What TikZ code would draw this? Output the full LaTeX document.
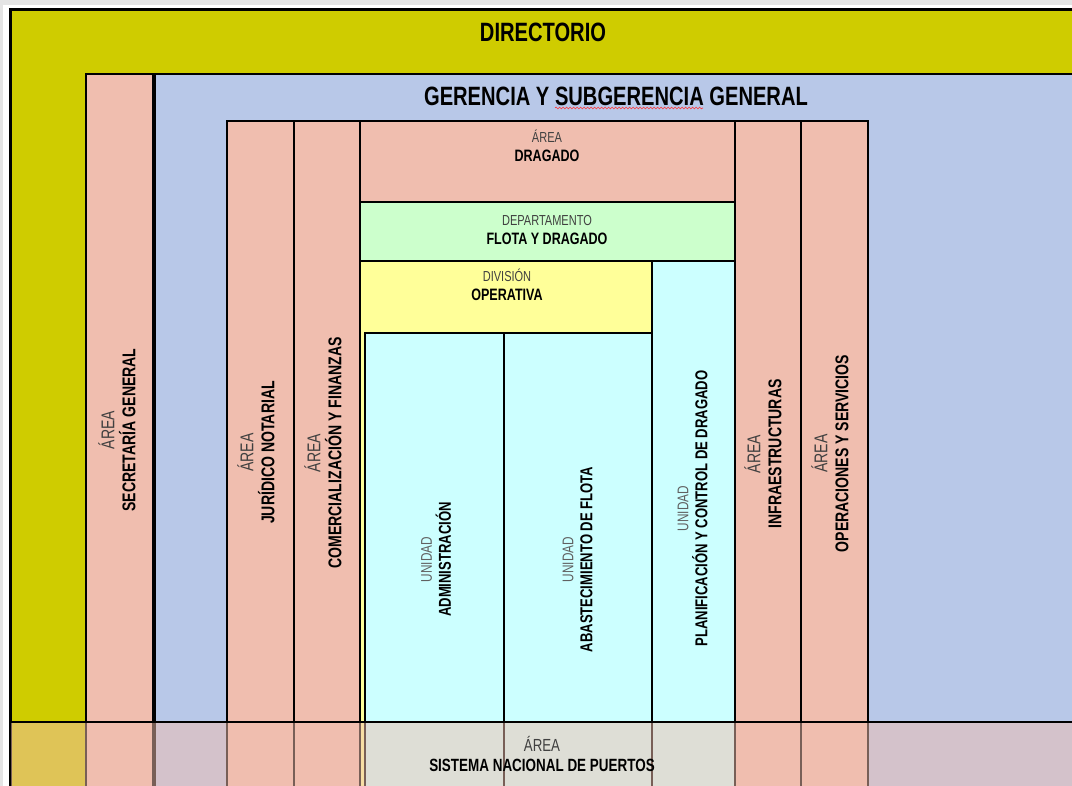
\documentclass[tikz,border=0pt]{standalone}
\usepackage{fontspec}
\setmainfont{Liberation Sans}[FakeStretch=0.76]
\usetikzlibrary{decorations.pathmorphing}
\definecolor{diryellow}{RGB}{207,204,0}
\definecolor{gerblue}{RGB}{184,200,232}
\definecolor{areapink}{RGB}{240,190,175}
\definecolor{depgreen}{RGB}{204,255,204}
\definecolor{divyellow}{RGB}{255,255,153}
\definecolor{unicyan}{RGB}{204,255,255}
\definecolor{labgrey}{RGB}{64,64,64}
\definecolor{unigrey}{RGB}{96,96,96}
\definecolor{framegrey}{RGB}{228,228,228}
\newcommand\smallsz{\fontsize{14.5}{19}\selectfont}
\newcommand\orglbl[2]{{\smallsz\color{labgrey}#1}\\\textbf{#2}}
\newcommand\unilbl[1]{{\smallsz\color{unigrey}UNIDAD}\\\textbf{#1}}
\begin{document}
\begin{tikzpicture}[x=1pt,y=-1pt,
  box/.style={draw=black, line width=2.5pt, anchor=north west, inner sep=0pt, outer sep=0pt},
  txt/.style={align=center, inner sep=0pt, font=\fontsize{16.5}{19}\selectfont, text=black},
  rtxt/.style={align=center, inner sep=0pt, text=black, rotate=90,
    font=\fontsize{18.5}{21}\selectfont\renewcommand\smallsz{\fontsize{18.5}{21}\selectfont}},
  utxt/.style={align=center, inner sep=0pt, text=black, rotate=90,
    font=\fontsize{17.2}{19}\selectfont\renewcommand\smallsz{\fontsize{15.5}{19}\selectfont}},
  stxt/.style={align=center, inner sep=0pt, text=black,
    font=\fontsize{17.7}{20}\selectfont\renewcommand\smallsz{\fontsize{17.5}{20}\selectfont}},
  big/.style={inner sep=0pt, font=\fontsize{26.5}{30}\selectfont\bfseries, text=black}]
\useasboundingbox (0,0) rectangle (1072,786);
\clip (0,0) rectangle (1072,786);
% frame
\fill[framegrey] (0,0) rectangle (1072,786);
\fill[white] (3,5) rectangle (1072,786);
% main blocks
\node[box, line width=3pt, fill=diryellow, minimum width=1100pt, minimum height=800pt] (dir) at (10,10) {};
\node[box, fill=gerblue, minimum width=950pt, minimum height=760pt] (ger) at (155,74) {};
\node[box, fill=areapink, minimum width=67pt, minimum height=760pt] (secr) at (86,74) {};
\node[box, fill=areapink, minimum width=67pt, minimum height=700pt] (jur) at (227,121) {};
\node[box, fill=areapink, minimum width=66pt, minimum height=700pt] (com) at (294,121) {};
\node[box, fill=areapink, minimum width=375pt, minimum height=81pt] (drag) at (360,121) {};
\node[box, fill=depgreen, minimum width=375pt, minimum height=59pt] (flota) at (360,202) {};
\node[box, fill=divyellow, minimum width=292pt, minimum height=600pt] (oper) at (360,261) {};
\node[box, fill=unicyan, minimum width=139pt, minimum height=500pt] (adm) at (365,333) {};
\node[box, fill=unicyan, minimum width=148pt, minimum height=500pt] (abas) at (504,333) {};
\node[box, fill=unicyan, minimum width=83pt, minimum height=600pt] (plan) at (652,261) {};
\node[box, fill=areapink, minimum width=66pt, minimum height=700pt] (infra) at (735,121) {};
\node[box, fill=areapink, minimum width=67pt, minimum height=700pt] (opser) at (801,121) {};
% bottom translucent band
\node[anchor=north west, inner sep=0pt, outer sep=0pt, fill=areapink, fill opacity=0.5,
      minimum width=1100pt, minimum height=100pt] (sist) at (10,722) {};
\draw[line width=2.5pt] (sist.south west) -- (sist.north west) -- (sist.north east);
% titles
\node[big] (dirT) at (543,32) {DIRECTORIO};
\node[big] (gerT) at (616,96) {GERENCIA Y SUBGERENCIA GENERAL};
\draw[red!80, line width=0.6pt, decorate, decoration={snake, amplitude=0.9pt, segment length=3.5pt}]
  (555,108) -- (703,108);
% horizontal labels
\node[txt] (dragT) at (547,146) {\orglbl{ÁREA}{DRAGADO}};
\node[txt] (flotaT) at (547,230) {\orglbl{DEPARTAMENTO}{FLOTA Y DRAGADO}};
\node[txt] (operT) at (507,284.5) {\orglbl{DIVISIÓN}{OPERATIVA}};
\node[stxt] (sistT) at (542,754) {\orglbl{ÁREA}{SISTEMA NACIONAL DE PUERTOS}};
% vertical labels
\node[rtxt] (secrT) at (117,430) {\orglbl{ÁREA}{SECRETARÍA GENERAL}};
\node[rtxt] (jurT) at (256,452.5) {\orglbl{ÁREA}{JURÍDICO NOTARIAL}};
\node[rtxt] (comT) at (323,453) {\orglbl{ÁREA}{COMERCIALIZACIÓN Y FINANZAS}};
\node[utxt] (admT) at (436,559.5) {\unilbl{ADMINISTRACIÓN}};
\node[utxt] (abasT) at (577.5,559.5) {\unilbl{ABASTECIMIENTO DE FLOTA}};
\node[utxt] (planT) at (692.5,508.5) {\unilbl{PLANIFICACIÓN Y CONTROL DE DRAGADO}};
\node[rtxt] (infraT) at (763,454) {\orglbl{ÁREA}{INFRAESTRUCTURAS}};
\node[rtxt] (opserT) at (830,453.5) {\orglbl{ÁREA}{OPERACIONES Y SERVICIOS}};
\end{tikzpicture}
\end{document}
